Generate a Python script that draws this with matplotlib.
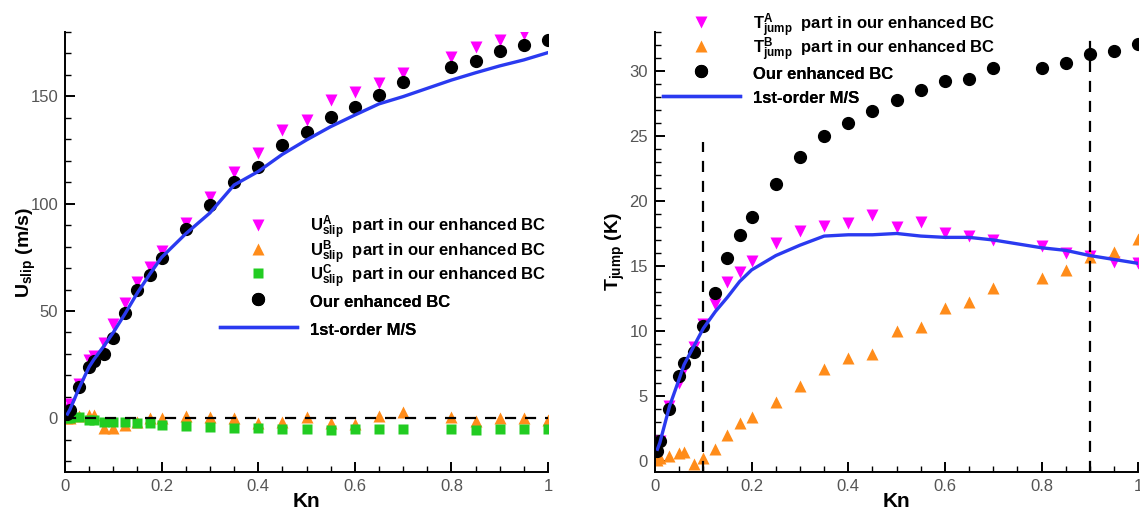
import matplotlib
matplotlib.use('Agg')
import matplotlib.pyplot as plt
import numpy as np
from matplotlib.ticker import MultipleLocator, FuncFormatter

plt.rcParams['font.family'] = 'Liberation Sans'
plt.rcParams['mathtext.fontset'] = 'custom'
plt.rcParams['mathtext.rm'] = 'Liberation Sans'
plt.rcParams['mathtext.bf'] = 'Liberation Sans:bold'
plt.rcParams['mathtext.it'] = 'Liberation Sans:italic'

# Knudsen numbers (same for both panels)
kn = [0.005, 0.01, 0.03, 0.05, 0.06, 0.08, 0.1, 0.125, 0.15, 0.175, 0.2, 0.25, 0.3,
      0.35, 0.4, 0.45, 0.5, 0.55, 0.6, 0.65, 0.7, 0.8, 0.85, 0.9, 0.95, 1.0]

# slip velocity (m/s)
u_a = [4.5, 6.5, 16.0, 27.0, 29.0, 35.0, 44.0, 53.6, 63.7, 70.5, 78.1, 91.1, 103.3,
       114.6, 123.5, 134.5, 139.0, 148.3, 152.2, 156.1, 161.0, 168.5, 173.2, 176.3, 178.9, np.nan]
u_b = [0.0, 0.3, 0.9, 1.5, 1.5, -4.7, -4.7, -3.1, -1.5, 0.0, 0.3, 1.2, 0.8,
       0.0, -2.0, -1.5, 0.8, -2.3, -2.6, 1.2, 2.8, 0.8, -1.1, 0.0, 0.0, -0.8]
u_c = [0.0, 0.0, 0.5, -0.8, -0.8, -1.5, -1.5, -1.5, -2.0, -2.3, -3.1, -3.6, -3.9,
       -4.7, -4.7, -5.0, -5.1, -5.4, -5.0, -5.0, -5.0, -5.0, -5.4, -5.0, -5.0, -5.0]
u_ours = [2.0, 4.0, 14.7, 23.8, 26.7, 30.0, 37.6, 48.9, 59.8, 66.8, 74.6, 88.3, 99.5,
          110.3, 117.0, 127.4, 133.3, 140.3, 144.9, 150.7, 156.9, 163.8, 166.6, 171.2, 174.0, 176.3]
u_ms = [2.0, 4.0, 14.5, 24.0, 27.5, 33.5, 40.0, 49.0, 58.5, 67.0, 75.0, 86.0, 95.7,
        108.7, 115.0, 123.0, 129.7, 135.9, 141.3, 146.5, 149.9, 157.6, 161.0, 164.2, 167.0, 170.4]

# temperature jump (K)
t_a = [1.0, 1.5, 4.2, 6.0, 7.1, 8.8, 10.5, 12.1, 13.8, 14.5, 15.4, 16.8, 17.7,
       18.1, 18.3, 18.9, 18.0, 18.4, 17.5, 17.3, 17.0, 16.5, 16.0, 15.8, 15.3, 15.2]
t_b = [0.1, 0.2, 0.35, 0.6, 0.7, -0.2, 0.2, 0.95, 2.0, 2.9, 3.4, 4.5, 5.8,
       7.1, 7.9, 8.2, 10.0, 10.3, 11.8, 12.2, 13.3, 14.1, 14.7, 15.7, 16.1, 17.1]
t_ours = [0.8, 1.5, 4.0, 6.5, 7.5, 8.4, 10.4, 12.9, 15.6, 17.4, 18.8, 21.3, 23.4,
          25.0, 26.0, 26.9, 27.8, 28.5, 29.2, 29.4, 30.2, 30.2, 30.6, 31.3, 31.5, 32.1]
t_ms = [0.9, 1.4, 4.2, 6.3, 7.4, 8.8, 10.2, 11.5, 12.6, 13.8, 14.7, 15.8, 16.6,
        17.3, 17.4, 17.4, 17.5, 17.3, 17.2, 17.2, 17.0, 16.4, 16.2, 15.8, 15.5, 15.2]

# dashed reference lines in the right panel
vline_kn = [0.1, 0.9]
vline_top = [24.5, 33.0]

MAG = '#ff00ff'
ORA = '#ff8c1a'
GRN = '#22cc22'
BLU = '#2a3af0'

fig = plt.figure(figsize=(11.4, 5.14), dpi=100)
ax1 = fig.add_axes([65 / 1140, 42 / 514, 483 / 1140, 440 / 514])
ax2 = fig.add_axes([655 / 1140, 42 / 514, 483.3 / 1140, 440 / 514])


def style(ax, ymaj, ymin):
    for s in ['top', 'right']:
        ax.spines[s].set_visible(False)
    for s in ['left', 'bottom']:
        ax.spines[s].set_linewidth(1.4)
    ax.tick_params(which='both', direction='in', labelcolor='#555555', labelsize=12, pad=5)
    ax.tick_params(which='major', length=7, width=1.4)
    ax.tick_params(which='minor', length=4, width=1.0)
    ax.xaxis.set_major_locator(MultipleLocator(0.2))
    ax.xaxis.set_minor_locator(MultipleLocator(0.05))
    ax.yaxis.set_major_locator(MultipleLocator(ymaj))
    ax.yaxis.set_minor_locator(MultipleLocator(ymin))
    ax.xaxis.set_major_formatter(FuncFormatter(lambda v, p: '%g' % round(v, 3)))
    ax.set_xlim(0, 1)
    ax.set_xlabel('Kn', fontsize=15, fontweight='bold')
    ax.xaxis.set_label_coords(0.5, -0.045)


def legend_block(ax, handles, anchor, spacing):
    # legend split in blocks so rows with sub/superscripts keep the same pitch
    leg = ax.legend(handles=handles, loc='upper left', bbox_to_anchor=anchor,
                    frameon=False, borderaxespad=0, borderpad=0,
                    handlelength=4.6, handleheight=1.45, handletextpad=0.8,
                    labelspacing=spacing, numpoints=1,
                    prop={'weight': 'bold', 'size': 12})
    ax.add_artist(leg)


# ---- left: slip velocity
ha, = ax1.plot(kn, u_a, 'v', color=MAG, ms=9, mec='none',
               label=r'$\mathbf{U}^{\mathbf{A}}_{\mathbf{slip}}$  part in our enhanced BC')
hb, = ax1.plot(kn, u_b, '^', color=ORA, ms=9, mec='none',
               label=r'$\mathbf{U}^{\mathbf{B}}_{\mathbf{slip}}$  part in our enhanced BC')
hc, = ax1.plot(kn, u_c, 's', color=GRN, ms=6.5, mec='none',
               label=r'$\mathbf{U}^{\mathbf{C}}_{\mathbf{slip}}$  part in our enhanced BC')
ho, = ax1.plot(kn, u_ours, 'o', color='black', ms=8.5, label='Our enhanced BC')
ax1.plot([0, 1], [0, 0], '--', color='black', lw=1.6, dashes=(5, 4))
hm, = ax1.plot(kn, u_ms, '-', color=BLU, lw=2.4, label='1st-order M/S')
style(ax1, 50, 10)
ax1.set_ylim(-25, 180)
ax1.set_ylabel(r'$\mathbf{U}_{\mathbf{slip}}$ (m/s)', fontsize=14, fontweight='bold')
ax1.yaxis.set_label_coords(-0.056, 0.5)
legend_block(ax1, [ha, hb, hc], (0.321, 0.586), -0.25)
legend_block(ax1, [ho, hm], (0.321, 0.411), 0.5)

# ---- right: temperature jump
ta, = ax2.plot(kn, t_a, 'v', color=MAG, ms=9, mec='none',
               label=r'$\mathbf{T}^{\mathbf{A}}_{\mathbf{jump}}$  part in our enhanced BC')
tb, = ax2.plot(kn, t_b, '^', color=ORA, ms=9, mec='none',
               label=r'$\mathbf{T}^{\mathbf{B}}_{\mathbf{jump}}$  part in our enhanced BC')
to, = ax2.plot(kn, t_ours, 'o', color='black', ms=8.5, label='Our enhanced BC')
for xv, yt in zip(vline_kn, vline_top):
    ax2.plot([xv, xv], [-0.85, yt], '--', color='black', lw=1.6, dashes=(5, 4))
tm, = ax2.plot(kn, t_ms, '-', color=BLU, lw=2.4, label='1st-order M/S')
style(ax2, 5, 1)
ax2.set_ylim(-0.85, 33)
ax2.set_ylabel(r'$\mathbf{T}_{\mathbf{jump}}$ (K)', fontsize=14, fontweight='bold')
ax2.yaxis.set_label_coords(-0.058, 0.5)
legend_block(ax2, [ta, tb], (0.0166, 1.047), -0.25)
legend_block(ax2, [to, tm], (0.0166, 0.929), 0.3)

fig.savefig('out.png', dpi=100)
